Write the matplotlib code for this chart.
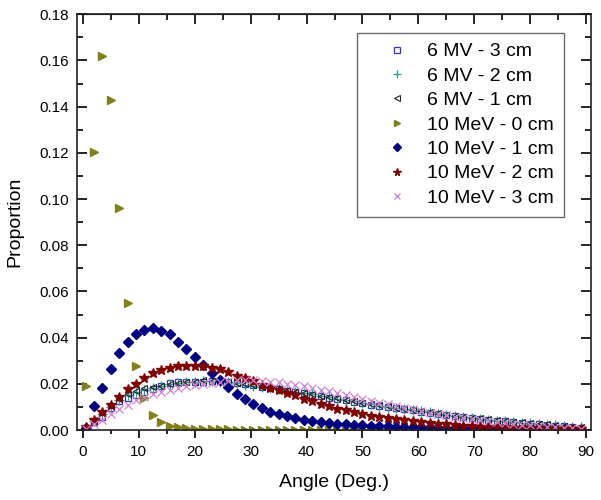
import numpy as np
import matplotlib
matplotlib.use("Agg")
import matplotlib.pyplot as plt
from matplotlib.ticker import MultipleLocator

plt.rcParams['font.family'] = ['Liberation Sans', 'DejaVu Sans']

# angle bins (deg.)
angle = [0.5 + 1.5 * k for k in range(60)]

mv6_3cm = [0.0008, 0.0036, 0.0058, 0.0095, 0.0125, 0.0140, 0.0152, 0.0165, 0.0178, 0.0190,
           0.0203, 0.0207, 0.0208, 0.0210, 0.0210, 0.0212, 0.0213, 0.0208, 0.0205, 0.0198,
           0.0195, 0.0188, 0.0183, 0.0176, 0.0170, 0.0165, 0.0160, 0.0152, 0.0148, 0.0140,
           0.0134, 0.0129, 0.0122, 0.0116, 0.0110, 0.0104, 0.0099, 0.0094, 0.0089, 0.0085,
           0.0080, 0.0075, 0.0070, 0.0065, 0.0060, 0.0055, 0.0052, 0.0048, 0.0045, 0.0041,
           0.0037, 0.0034, 0.0031, 0.0028, 0.0025, 0.0022, 0.0019, 0.0016, 0.0013, 0.0010]

mv6_2cm = [0.0008, 0.0040, 0.0070, 0.0100, 0.0130, 0.0150, 0.0165, 0.0175, 0.0182, 0.0190,
           0.0200, 0.0205, 0.0207, 0.0210, 0.0212, 0.0212, 0.0210, 0.0206, 0.0202, 0.0197,
           0.0192, 0.0187, 0.0182, 0.0176, 0.0171, 0.0166, 0.0160, 0.0154, 0.0148, 0.0142,
           0.0136, 0.0130, 0.0124, 0.0118, 0.0112, 0.0106, 0.0101, 0.0096, 0.0091, 0.0086,
           0.0081, 0.0076, 0.0071, 0.0066, 0.0061, 0.0057, 0.0053, 0.0049, 0.0045, 0.0041,
           0.0038, 0.0035, 0.0032, 0.0029, 0.0026, 0.0023, 0.0020, 0.0017, 0.0014, 0.0011]

mv6_1cm = [0.0010, 0.0045, 0.0075, 0.0105, 0.0135, 0.0155, 0.0170, 0.0180, 0.0185, 0.0190,
           0.0198, 0.0203, 0.0207, 0.0210, 0.0215, 0.0213, 0.0210, 0.0206, 0.0203, 0.0198,
           0.0193, 0.0188, 0.0183, 0.0177, 0.0172, 0.0166, 0.0161, 0.0155, 0.0149, 0.0143,
           0.0137, 0.0131, 0.0125, 0.0119, 0.0113, 0.0107, 0.0102, 0.0097, 0.0092, 0.0087,
           0.0082, 0.0077, 0.0072, 0.0067, 0.0062, 0.0058, 0.0054, 0.0050, 0.0046, 0.0042,
           0.0039, 0.0036, 0.0033, 0.0030, 0.0027, 0.0024, 0.0021, 0.0018, 0.0015, 0.0012]

mev10_0cm = [0.0190, 0.1205, 0.1620, 0.1430, 0.0960, 0.0549, 0.0276, 0.0137, 0.0067, 0.0034,
             0.0019, 0.0012, 0.0008, 0.0006, 0.0005, 0.0004, 0.0003, 0.0003, 0.0002, 0.0002,
             0.0002, 0.0001, 0.0001, 0.0001, 0.0001, 0.0001, 0.0001, 0.0001, 0.0001, 0.0001,
             0.0000, 0.0000, 0.0000, 0.0000, 0.0000, 0.0000, 0.0000, 0.0000, 0.0000, 0.0000,
             0.0000, 0.0000, 0.0000, 0.0000, 0.0000, 0.0000, 0.0000, 0.0000, 0.0000, 0.0000,
             0.0000, 0.0000, 0.0000, 0.0000, 0.0000, 0.0000, 0.0000, 0.0000, 0.0000, 0.0000]

mev10_1cm = [0.0010, 0.0103, 0.0183, 0.0263, 0.0335, 0.0383, 0.0416, 0.0431, 0.0441, 0.0428,
             0.0416, 0.0383, 0.0349, 0.0317, 0.0280, 0.0245, 0.0215, 0.0187, 0.0157, 0.0134,
             0.0112, 0.0094, 0.0079, 0.0068, 0.0060, 0.0052, 0.0045, 0.0039, 0.0034, 0.0029,
             0.0027, 0.0025, 0.0023, 0.0021, 0.0019, 0.0017, 0.0016, 0.0015, 0.0014, 0.0013,
             0.0012, 0.0011, 0.0010, 0.0009, 0.0009, 0.0008, 0.0007, 0.0007, 0.0006, 0.0006,
             0.0005, 0.0005, 0.0004, 0.0004, 0.0004, 0.0003, 0.0003, 0.0003, 0.0002, 0.0002]

mev10_2cm = [0.0012, 0.0045, 0.0077, 0.0109, 0.0143, 0.0177, 0.0201, 0.0225, 0.0245, 0.0259,
             0.0268, 0.0275, 0.0277, 0.0277, 0.0279, 0.0269, 0.0262, 0.0253, 0.0234, 0.0227,
             0.0213, 0.0197, 0.0182, 0.0172, 0.0160, 0.0150, 0.0135, 0.0124, 0.0114, 0.0106,
             0.0092, 0.0087, 0.0077, 0.0070, 0.0062, 0.0055, 0.0051, 0.0048, 0.0044, 0.0040,
             0.0034, 0.0031, 0.0027, 0.0024, 0.0021, 0.0019, 0.0017, 0.0015, 0.0014, 0.0012,
             0.0011, 0.0010, 0.0009, 0.0008, 0.0007, 0.0006, 0.0005, 0.0005, 0.0004, 0.0003]

mev10_3cm = [0.0005, 0.0025, 0.0045, 0.0068, 0.0090, 0.0110, 0.0128, 0.0143, 0.0155, 0.0165,
             0.0175, 0.0183, 0.0190, 0.0196, 0.0201, 0.0205, 0.0210, 0.0213, 0.0215, 0.0216,
             0.0215, 0.0213, 0.0210, 0.0206, 0.0201, 0.0195, 0.0189, 0.0182, 0.0175, 0.0167,
             0.0159, 0.0151, 0.0143, 0.0135, 0.0127, 0.0119, 0.0111, 0.0103, 0.0096, 0.0089,
             0.0082, 0.0075, 0.0069, 0.0063, 0.0057, 0.0052, 0.0047, 0.0042, 0.0038, 0.0034,
             0.0030, 0.0026, 0.0023, 0.0020, 0.0017, 0.0014, 0.0012, 0.0010, 0.0008, 0.0006]

fig = plt.figure(figsize=(6.01, 5.0), dpi=100)
ax = fig.add_axes([0.1286, 0.14, 0.8542, 0.8314])

ax.plot(angle, mv6_3cm, ls='none', marker='s', ms=5, mfc='none', mec='#3535b0', mew=0.9, label='6 MV - 3 cm')
ax.plot(angle, mv6_2cm, ls='none', marker='+', ms=7, mec='#2f9a8c', mew=0.9, label='6 MV - 2 cm')
ax.plot(angle, mv6_1cm, ls='none', marker='<', ms=5, mfc='none', mec='#222222', mew=0.8, label='6 MV - 1 cm')
ax.plot(angle, mev10_0cm, ls='none', marker='>', ms=5.5, mfc='#80801c', mec='#80801c', label='10 MeV - 0 cm')
ax.plot(angle, mev10_1cm, ls='none', marker='D', ms=5, mfc='#000080', mec='#000080', label='10 MeV - 1 cm')
ax.plot(angle, mev10_2cm, ls='none', marker='*', ms=7, mfc='#7f0000', mec='#7f0000', label='10 MeV - 2 cm')
ax.plot(angle, mev10_3cm, ls='none', marker='x', ms=6, mec='#d080d0', mew=0.9, label='10 MeV - 3 cm')

ax.set_xlim(-1, 90.8)
ax.set_ylim(0, 0.18)
ax.xaxis.set_major_locator(MultipleLocator(10))
ax.xaxis.set_minor_locator(MultipleLocator(5))
ax.yaxis.set_major_locator(MultipleLocator(0.02))
ax.yaxis.set_minor_locator(MultipleLocator(0.01))
ax.yaxis.set_major_formatter(matplotlib.ticker.FormatStrFormatter('%.2f'))

ax.tick_params(axis='x', which='both', direction='out', labelsize=11, top=False, width=1.2, pad=4.5)
ax.tick_params(axis='x', which='major', length=6)
ax.tick_params(axis='x', which='minor', length=3)
ax.tick_params(axis='y', which='both', direction='in', labelsize=11, right=True, width=1.2, pad=5.7)
ax.tick_params(axis='y', which='major', length=7)
ax.tick_params(axis='y', which='minor', length=4)

# top ticks pointing inward
top = ax.secondary_xaxis('top')
top.xaxis.set_major_locator(MultipleLocator(10))
top.xaxis.set_minor_locator(MultipleLocator(5))
top.tick_params(which='both', direction='in', labeltop=False, width=1.2)
top.tick_params(which='major', length=7)
top.tick_params(which='minor', length=4)

for s in ax.spines.values():
    s.set_linewidth(1.2)
    s.set_color('#222222')

ax.set_xlabel('Angle (Deg.)', fontsize=14, labelpad=11)
ax.set_ylabel('Proportion', fontsize=14, labelpad=12)

leg = ax.legend(loc='upper right', bbox_to_anchor=(0.948, 0.955), borderaxespad=0,
                fontsize=14, frameon=True, fancybox=False, edgecolor='#444444',
                markerscale=0.8, handletextpad=-0.05, labelspacing=0.35,
                borderpad=0.5, handlelength=3.2)
leg.get_frame().set_linewidth(1.0)

fig.savefig('out.png', dpi=100)
plt.close(fig)
